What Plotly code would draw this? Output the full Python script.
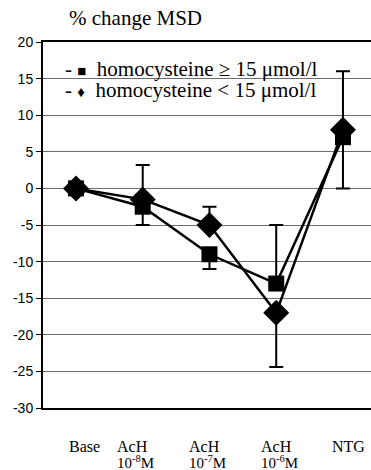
import plotly.graph_objects as go

# Measurement points along the protocol
categories = ["Base", "AcH 10-8M", "AcH 10-7M", "AcH 10-6M", "NTG"]
cat_names = ["Base", "AcH", "AcH", "AcH", "NTG"]
cat_doses = ["", "10<sup>-8</sup>M", "10<sup>-7</sup>M", "10<sup>-6</sup>M", ""]

# % change in MSD, homocysteine >= 15 umol/l
high_hcy = [0, -2.5, -9, -13, 7]
high_err_plus = [0, 0, 0, 8, 0]
high_err_minus = [0, 2.5, 2, 0, 7]

# % change in MSD, homocysteine < 15 umol/l
low_hcy = [0, -1.5, -5, -17, 8]
low_err_plus = [0, 4.7, 2.5, 0, 8]
low_err_minus = [0, 0, 0, 7.4, 0]

y_ticks = [20, 15, 10, 5, 0, -5, -10, -15, -20, -25, -30]

xpos = list(range(len(categories)))

serif = "Liberation Serif"
sans = "Liberation Sans"
nb = "\u00a0"

fig = go.Figure()

fig.add_trace(go.Scatter(
    x=xpos, y=high_hcy, mode="lines+markers",
    name="homocysteine ≥ 15 μmol/l",
    line=dict(color="black", width=2.5),
    marker=dict(symbol="square", size=16, color="black"),
    error_y=dict(type="data", symmetric=False, array=high_err_plus,
                 arrayminus=high_err_minus, color="black", thickness=2, width=7),
))

fig.add_trace(go.Scatter(
    x=xpos, y=low_hcy, mode="lines+markers",
    name="homocysteine < 15 μmol/l",
    line=dict(color="black", width=2.5),
    marker=dict(symbol="diamond", size=20, color="black"),
    error_y=dict(type="data", symmetric=False, array=low_err_plus,
                 arrayminus=low_err_minus, color="black", thickness=2, width=7),
))

annotations = []

# Chart heading
annotations.append(dict(
    text="% change MSD", xref="paper", yref="paper", x=0.073, y=1.066,
    xanchor="left", yanchor="middle", showarrow=False,
    font=dict(family=serif, size=21, color="black"),
))

# In-plot key
annotations.append(dict(
    text=f"-{nb}<span style='font-size:15px'>■</span>{nb} homocysteine ≥ 15 μmol/l",
    xref="paper", yref="y", x=0.061, y=16.3,
    xanchor="left", yanchor="middle", showarrow=False,
    font=dict(family=serif, size=21, color="black"),
))
annotations.append(dict(
    text=f"-{nb}<span style='font-size:15px'>♦</span>{nb} homocysteine < 15 μmol/l",
    xref="paper", yref="y", x=0.061, y=13.4,
    xanchor="left", yanchor="middle", showarrow=False,
    font=dict(family=serif, size=21, color="black"),
))

# Category labels under the axis
label_shift = [-9, -28, -22, -17, -13]
for i, (name, dose) in enumerate(zip(cat_names, cat_doses)):
    annotations.append(dict(
        text=name, xref="x", yref="paper", x=xpos[i], y=0,
        xanchor="left", yanchor="middle", xshift=label_shift[i], yshift=-38,
        showarrow=False, font=dict(family=serif, size=16, color="black"),
    ))
    if dose:
        annotations.append(dict(
            text=dose, xref="x", yref="paper", x=xpos[i], y=0,
            xanchor="left", yanchor="middle", xshift=label_shift[i], yshift=-54,
            showarrow=False, font=dict(family=serif, size=15, color="black"),
        ))

fig.update_layout(
    width=371, height=470,
    margin=dict(l=43, r=0, t=42, b=62),
    paper_bgcolor="white", plot_bgcolor="white",
    showlegend=False,
    annotations=annotations,
    xaxis=dict(
        range=[-0.494, 4.42], showticklabels=False, ticks="",
        showgrid=False, zeroline=False,
        showline=True, linecolor="black", linewidth=2, mirror=True,
    ),
    yaxis=dict(
        range=[-30, 20], tickvals=y_ticks, ticktext=[str(v) for v in y_ticks],
        ticks="outside", ticklen=5, tickcolor="black", tickwidth=1,
        tickfont=dict(family=sans, size=14, color="black"),
        showgrid=True, gridcolor="#6e6e6e", gridwidth=1,
        zeroline=False, showline=True, linecolor="black", linewidth=2,
    ),
)

fig.write_html("out.html")
